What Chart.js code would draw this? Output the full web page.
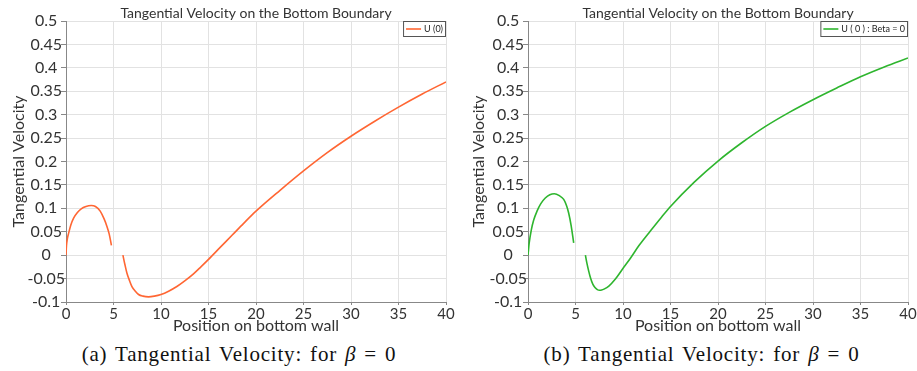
<!DOCTYPE html>
<html>
<head>
<meta charset="utf-8">
<script src="https://cdn.jsdelivr.net/npm/chart.js@4/dist/chart.umd.min.js"></script>
<style>
  body { margin: 0; background: #fff; }
  #wrap { position: relative; width: 917px; height: 371px; overflow: hidden; background: #fff; }
  canvas { position: absolute; top: 0; }
  .cap {
    position: absolute; top: 341px; text-align: center; white-space: nowrap;
    font-family: "Liberation Serif", "Times New Roman", serif; font-size: 21px; line-height: 26px;
    letter-spacing: 0.8px; word-spacing: 2px; color: #111;
  }
</style>
</head>
<body>
<div id="wrap">
  <canvas id="chartA" width="458" height="340" style="left:0"></canvas>
  <canvas id="chartB" width="457" height="340" style="left:460px"></canvas>
  <div class="cap" style="left:0;width:478px">(a) Tangential Velocity: for <i>β</i> = 0</div>
  <div class="cap" style="left:460px;width:483px">(b) Tangential Velocity: for <i>β</i> = 0</div>
</div>
<script>
const chartTitle = 'Tangential Velocity on the Bottom Boundary';
const xTitle = 'Position on bottom wall';
const yTitle = 'Tangential Velocity';

// (a) U (0) -- null marks the gap in the wall
const labelA = 'U (0)';
const posA = [0, 0.05, 0.15, 0.28, 0.5, 0.8, 1.2, 1.6, 2.1, 2.65, 3.1, 3.6, 4.0, 4.3, 4.55, 4.78,
  5.4,
  5.99, 6.2, 6.41, 6.7, 6.94, 7.3, 7.64, 8.1, 8.69, 9.3, 10, 10.8, 11.67, 12.5, 13.42, 14.2, 15, 16.2,
  17.5, 18.7, 20, 22.5, 25, 27.5, 30, 32.5, 35, 37.5, 40];
const velA = [0, 0.02, 0.036, 0.047, 0.064, 0.079, 0.091, 0.099, 0.104, 0.106, 0.104, 0.094, 0.078, 0.062, 0.045, 0.021,
  null,
  0, -0.02, -0.038, -0.055, -0.067, -0.077, -0.084, -0.0875, -0.089, -0.0875, -0.084, -0.077, -0.067, -0.055, -0.040, -0.025, -0.009, 0.016,
  0.043, 0.068, 0.094, 0.138, 0.180, 0.219, 0.254, 0.286, 0.316, 0.344, 0.370];

// (b) U (0) : Beta = 0
const labelB = 'U ( 0 ) : Beta = 0';
const posB = [0, 0.12, 0.35, 0.6, 0.95, 1.35, 1.82, 2.3, 2.77, 3.3, 3.76, 4.05, 4.28, 4.55, 4.81,
  5.4,
  6.04, 6.2, 6.39, 6.6, 6.82, 7.05, 7.3, 7.52, 7.75, 8.0, 8.51, 9.2, 9.9, 10.8, 11.7, 12.9, 14.05, 15,
  17.5, 20, 22.5, 25, 27.5, 30, 32.5, 35, 37.5, 40];
const velB = [0, 0.025, 0.054, 0.075, 0.094, 0.110, 0.122, 0.129, 0.131, 0.127, 0.119, 0.106, 0.090, 0.062, 0.026,
  null,
  0, -0.017, -0.034, -0.05, -0.062, -0.069, -0.0735, -0.075, -0.0745, -0.0725, -0.066, -0.051, -0.031, -0.006, 0.021, 0.052, 0.081, 0.104,
  0.156, 0.201, 0.240, 0.275, 0.305, 0.332, 0.357, 0.381, 0.402, 0.421];

Chart.defaults.font.family = 'Lato';
Chart.defaults.color = '#333';

// legend box drawn inside the top-right corner of the plot
const boxLegend = {
  id: 'boxLegend',
  afterDatasetsDraw(chart) {
    const ds = chart.data.datasets[0];
    const { ctx, chartArea } = chart;
    ctx.save();
    ctx.font = '9px Lato';
    const tw = ctx.measureText(ds.label).width;
    const h = 16, w = tw + 24;
    const x = chartArea.right - w, y = chartArea.top;
    ctx.fillStyle = '#fff';
    ctx.fillRect(x, y, w, h);
    ctx.strokeStyle = '#555';
    ctx.lineWidth = 1;
    ctx.strokeRect(x + 0.5, y + 0.5, w - 1, h - 1);
    ctx.strokeStyle = ds.borderColor;
    ctx.lineWidth = 1.6;
    ctx.beginPath();
    ctx.moveTo(x + 3, y + h / 2);
    ctx.lineTo(x + 18, y + h / 2);
    ctx.stroke();
    ctx.fillStyle = '#222';
    ctx.textBaseline = 'middle';
    ctx.fillText(ds.label, x + 21, y + h / 2 + 0.5);
    ctx.restore();
  }
};

function makeChart(id, label, color, xs, ys, yWidth, padRight) {
  const pts = xs.map((x, i) => ({ x: x, y: ys[i] }));
  return new Chart(document.getElementById(id), {
    type: 'line',
    data: {
      datasets: [{
        label: label,
        data: pts,
        borderColor: color,
        borderWidth: 1.6,
        pointRadius: 0,
        cubicInterpolationMode: 'monotone',
        spanGaps: false,
        fill: false
      }]
    },
    options: {
      responsive: false,
      animation: false,
      layout: { padding: { left: 0, right: padRight, top: 0, bottom: 0 } },
      plugins: {
        legend: { display: false },
        tooltip: { enabled: false },
        title: {
          display: true,
          text: chartTitle,
          fullSize: false,
          color: '#333',
          font: { size: 14, weight: 'normal', lineHeight: 1 },
          padding: { top: 6, bottom: 1 }
        }
      },
      scales: {
        x: {
          type: 'linear',
          min: 0, max: 40,
          ticks: { stepSize: 5, font: { size: 15 }, padding: 0, color: '#333' },
          grid: { color: '#e2e2e2', tickColor: '#888', tickLength: 3 },
          border: { color: '#888' },
          title: { display: true, text: xTitle, font: { size: 16 }, padding: { top: 0, bottom: 5 }, color: '#333' },
          afterFit(s) { s.height = 38; s.paddingLeft = 0; s.paddingRight = 0; }
        },
        y: {
          min: -0.1, max: 0.5,
          ticks: {
            stepSize: 0.05,
            font: { size: 16 },
            crossAlign: 'center',
            padding: -4,
            color: '#333',
            callback: v => String(Math.round(v * 100) / 100)
          },
          grid: { color: '#e2e2e2', tickColor: '#888', tickLength: 5 },
          border: { color: '#888' },
          title: { display: true, text: yTitle, font: { size: 16 }, padding: { top: 9, bottom: 0 }, color: '#333' },
          afterFit(s) { s.width = yWidth; s.paddingTop = 0; s.paddingBottom = 0; }
        }
      }
    },
    plugins: [boxLegend]
  });
}

makeChart('chartA', labelA, '#ff6633', posA, velA, 66, 12);
makeChart('chartB', labelB, '#2eb52e', posB, velB, 68, 9);
</script>
</body>
</html>
